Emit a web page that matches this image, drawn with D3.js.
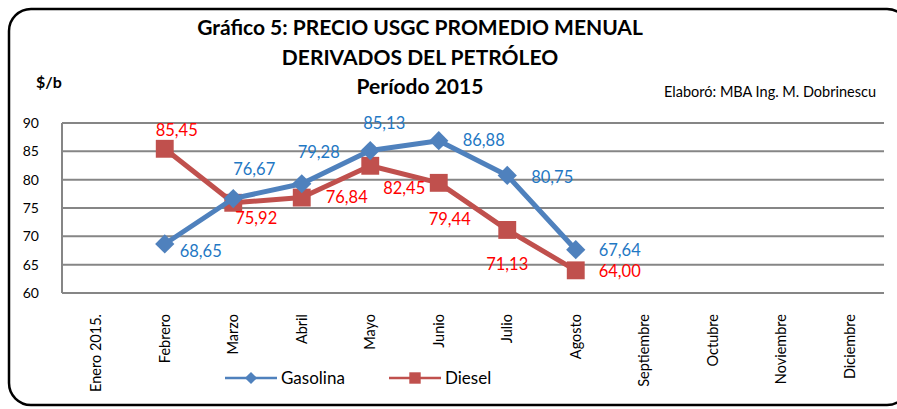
<!DOCTYPE html>
<html>
<head>
<meta charset="utf-8">
<script src="https://cdn.jsdelivr.net/npm/d3@7/dist/d3.min.js"></script>
<style>
  body { margin: 0; background: #fff; }
  svg { display: block; font-family: Lato, "Open Sans", sans-serif; }
</style>
</head>
<body>
<svg id="chart" width="897" height="409"></svg>
<script>
// months on the x axis
var months = ["Enero 2015.", "Febrero", "Marzo", "Abril", "Mayo", "Junio", "Julio",
              "Agosto", "Septiembre", "Octubre", "Noviembre", "Diciembre"];
// monthly average prices, $/b (null = no data)
var gasolina = [null, 68.65, 76.67, 79.28, 85.13, 86.88, 80.75, 67.64, null, null, null, null];
var diesel   = [null, 85.45, 75.92, 76.84, 82.45, 79.44, 71.13, 64.00, null, null, null, null];
var yTicks = [60, 65, 70, 75, 80, 85, 90];
// label offsets per point [dx, dy]
var gasLabelPos = [null, [36, 7], [21, -29], [17, -32], [14, -27], [45, 0], [45, 2], [44, 1], null, null, null, null];
var dieLabelPos = [null, [12, -19], [23, 15], [45, 0], [34, 22], [11, 36], [0, 34], [44, 1], null, null, null, null];

var C = {
    gas: "#4F81BD",
    die: "#C0504D",
    gasLbl: "#1F78C4",
    dieLbl: "#FF0000",
    grid: "#868686",
    text: "#000"
};

var margin = { top: 123, right: 13, bottom: 116, left: 62 };
var W = 897, H = 409;
var width = W - margin.left - margin.right;
var height = H - margin.top - margin.bottom;

var svg = d3.select("#chart");

// rounded outer frame (right edge runs past the picture)
svg.append("rect")
    .attr("x", 9).attr("y", 9)
    .attr("width", 900).attr("height", 396)
    .attr("rx", 22).attr("ry", 22)
    .attr("fill", "none").attr("stroke", "#000").attr("stroke-width", 2.5);

// titles
var titles = ["Gráfico 5: PRECIO USGC PROMEDIO MENUAL", "DERIVADOS DEL PETRÓLEO", "Período  2015"];
titles.forEach(function (t, i) {
    svg.append("text")
        .attr("x", 420).attr("y", 35 + i * 29.5)
        .attr("text-anchor", "middle")
        .attr("font-size", "21px").attr("font-weight", "bold")
        .attr("fill", C.text)
        .text(t);
});

svg.append("text")
    .attr("x", 36).attr("y", 88)
    .attr("font-size", "16px").attr("font-weight", "bold")
    .text("$/b");

svg.append("text")
    .attr("x", 876).attr("y", 97)
    .attr("text-anchor", "end")
    .attr("font-size", "14.5px")
    .text("Elaboró: MBA Ing. M. Dobrinescu");

var g = svg.append("g")
    .attr("transform", "translate(" + margin.left + "," + margin.top + ")");

var x = d3.scaleBand().domain(months).range([0, width]);
var y = d3.scaleLinear().domain([60, 90]).range([height, 0]);

// grid lines
yTicks.forEach(function (v) {
    g.append("line")
        .attr("x1", 0).attr("x2", width)
        .attr("y1", y(v)).attr("y2", y(v))
        .attr("stroke", C.grid).attr("stroke-width", 2);
});
g.append("line")
    .attr("x1", 0).attr("x2", 0)
    .attr("y1", y(90)).attr("y2", y(60))
    .attr("stroke", C.grid).attr("stroke-width", 2);

// y axis labels
var yAxis = d3.axisLeft(y).tickValues(yTicks).tickSize(0).tickPadding(23);
var ya = g.append("g").call(yAxis);
ya.select(".domain").remove();
ya.selectAll("text").attr("font-size", "14px").attr("font-family", "Lato, sans-serif").attr("fill", C.text);

// x axis labels (rotated)
months.forEach(function (m) {
    var cx = x(m) + x.bandwidth() / 2;
    g.append("text")
        .attr("transform", "translate(" + (cx + 5) + "," + (height + 21) + ") rotate(-90)")
        .attr("text-anchor", "end")
        .attr("font-size", "14.5px")
        .attr("fill", C.text)
        .text(m);
});

function cx(i) { return x(months[i]) + x.bandwidth() / 2; }

function marker(sel, shape, size) {
    if (shape === "diamond") {
        sel.attr("d", d3.symbol().type(d3.symbolSquare).size(size)())
            .attr("transform", sel.attr("transform") + " rotate(45)");
    } else {
        sel.attr("d", d3.symbol().type(d3.symbolSquare).size(size)());
    }
}

function drawSeries(vals, color, shape, lblColor, lblPos) {
    var pts = [];
    vals.forEach(function (v, i) { if (v != null) pts.push([i, v]); });
    var line = d3.line().x(function (d) { return cx(d[0]); }).y(function (d) { return y(d[1]); });
    g.append("path").datum(pts)
        .attr("d", line)
        .attr("fill", "none").attr("stroke", color)
        .attr("stroke-width", 5).attr("stroke-linejoin", "round");
    pts.forEach(function (d) {
        var m = g.append("path")
            .attr("transform", "translate(" + cx(d[0]) + "," + y(d[1]) + ")")
            .attr("fill", color);
        marker(m, shape, shape === "square" ? 320 : 185);
    });
    pts.forEach(function (d) {
        var off = lblPos[d[0]];
        g.append("text")
            .attr("x", cx(d[0]) + off[0])
            .attr("y", y(d[1]) + off[1])
            .attr("dy", "0.35em")
            .attr("text-anchor", "middle")
            .attr("font-size", "16.5px")
            .attr("fill", lblColor)
            .text(d[1].toFixed(2).replace(".", ","));
    });
}

drawSeries(diesel, C.die, "square", C.dieLbl, dieLabelPos);
drawSeries(gasolina, C.gas, "diamond", C.gasLbl, gasLabelPos);

// legend
var legend = [
    { name: "Gasolina", color: C.gas, shape: "diamond", size: 75, x: 225 },
    { name: "Diesel", color: C.die, shape: "square", size: 130, x: 389 }
];
legend.forEach(function (l) {
    var ly = 378;
    svg.append("line")
        .attr("x1", l.x).attr("x2", l.x + 52)
        .attr("y1", ly).attr("y2", ly)
        .attr("stroke", l.color).attr("stroke-width", 2.5);
    var m = svg.append("path")
        .attr("transform", "translate(" + (l.x + 26) + "," + ly + ")")
        .attr("fill", l.color);
    marker(m, l.shape, l.size);
    svg.append("text")
        .attr("x", l.x + 56).attr("y", ly + 6)
        .attr("font-size", "17px")
        .attr("fill", C.text)
        .text(l.name);
});
</script>
</body>
</html>
